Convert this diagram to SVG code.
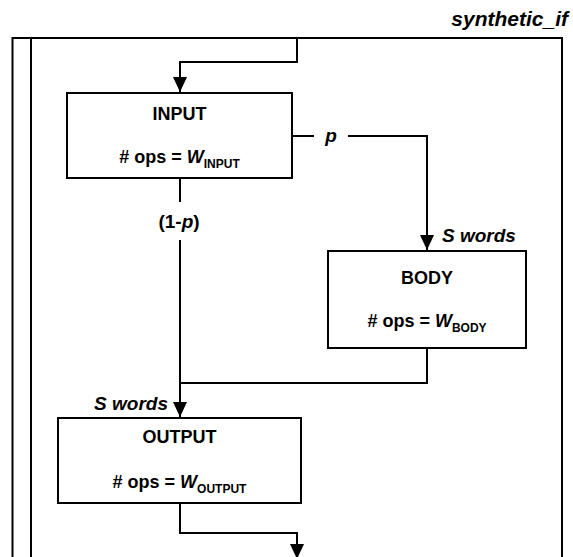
<svg xmlns="http://www.w3.org/2000/svg" width="573" height="557" viewBox="0 0 573 557">
  <style>
    .frame { fill: none; stroke: #000; stroke-width: 2; }
    .box { fill: #fff; stroke: #000; stroke-width: 2; }
    .wire { fill: none; stroke: #000; stroke-width: 2; }
    text { font-family: "Liberation Sans", Arial, Helvetica, sans-serif; font-weight: bold; fill: #000; }
    .name { font-size: 18px; }
    .ops { font-size: 18px; }
    .sub { font-size: 12px; }
    .it { font-style: italic; }
    .lbl { font-size: 19px; }
    .title { font-size: 21px; font-style: italic; }
  </style>
  <defs>
    <marker id="arrow" markerUnits="userSpaceOnUse" markerWidth="16" markerHeight="16" viewBox="0 0 16 16" refX="15" refY="8" orient="auto">
      <path d="M0,1 L15,8 L0,15 Z" fill="#000"/>
    </marker>
  </defs>

  <rect width="573" height="557" fill="#fff"/>

  <!-- enclosing block of the synthetic_if construct -->
  <g id="frame">
    <text class="title" x="568" y="26" text-anchor="end">synthetic_if</text>
    <path class="frame" d="M12.5,557 V38 H563 M31,38 V557 M562,38 V557"/>
  </g>

  <g id="connectors">
    <!-- entry into INPUT -->
    <path class="wire" d="M297,38 V62 H180 V92" marker-end="url(#arrow)"/>
    <!-- taken branch (p) to BODY -->
    <path class="wire" d="M292,136 H314 M348,136 H427 V250" marker-end="url(#arrow)"/>
    <!-- fall-through branch (1-p) to OUTPUT -->
    <path class="wire" d="M180,178 V202"/>
    <path class="wire" d="M180,240 V417" marker-end="url(#arrow)"/>
    <!-- BODY rejoins the main path -->
    <path class="wire" d="M427,348 V383 H180"/>
    <!-- exit from OUTPUT -->
    <path class="wire" d="M180,503 V533 H297 V559" marker-end="url(#arrow)"/>

    <text class="lbl it" x="331" y="142" text-anchor="middle">p</text>
    <text class="lbl" x="179" y="228" text-anchor="middle">(1-<tspan class="it">p</tspan>)</text>
    <text class="lbl it" x="442" y="242">S words</text>
    <text class="lbl it" x="168" y="410" text-anchor="end">S words</text>
  </g>

  <g id="input">
    <rect class="box" x="67" y="93" width="225" height="85"/>
    <text class="name" x="179.5" y="120" text-anchor="middle">INPUT</text>
    <text class="ops" x="179.5" y="163" text-anchor="middle"># ops = <tspan class="it">W</tspan><tspan class="sub" dy="5">INPUT</tspan></text>
  </g>

  <g id="body">
    <rect class="box" x="328" y="251" width="198" height="97"/>
    <text class="name" x="427" y="284" text-anchor="middle">BODY</text>
    <text class="ops" x="427" y="327" text-anchor="middle"># ops = <tspan class="it">W</tspan><tspan class="sub" dy="5">BODY</tspan></text>
  </g>

  <g id="output">
    <rect class="box" x="58" y="418" width="243" height="85"/>
    <text class="name" x="179.5" y="443" text-anchor="middle">OUTPUT</text>
    <text class="ops" x="179.5" y="488" text-anchor="middle"># ops = <tspan class="it">W</tspan><tspan class="sub" dy="5">OUTPUT</tspan></text>
  </g>
</svg>
